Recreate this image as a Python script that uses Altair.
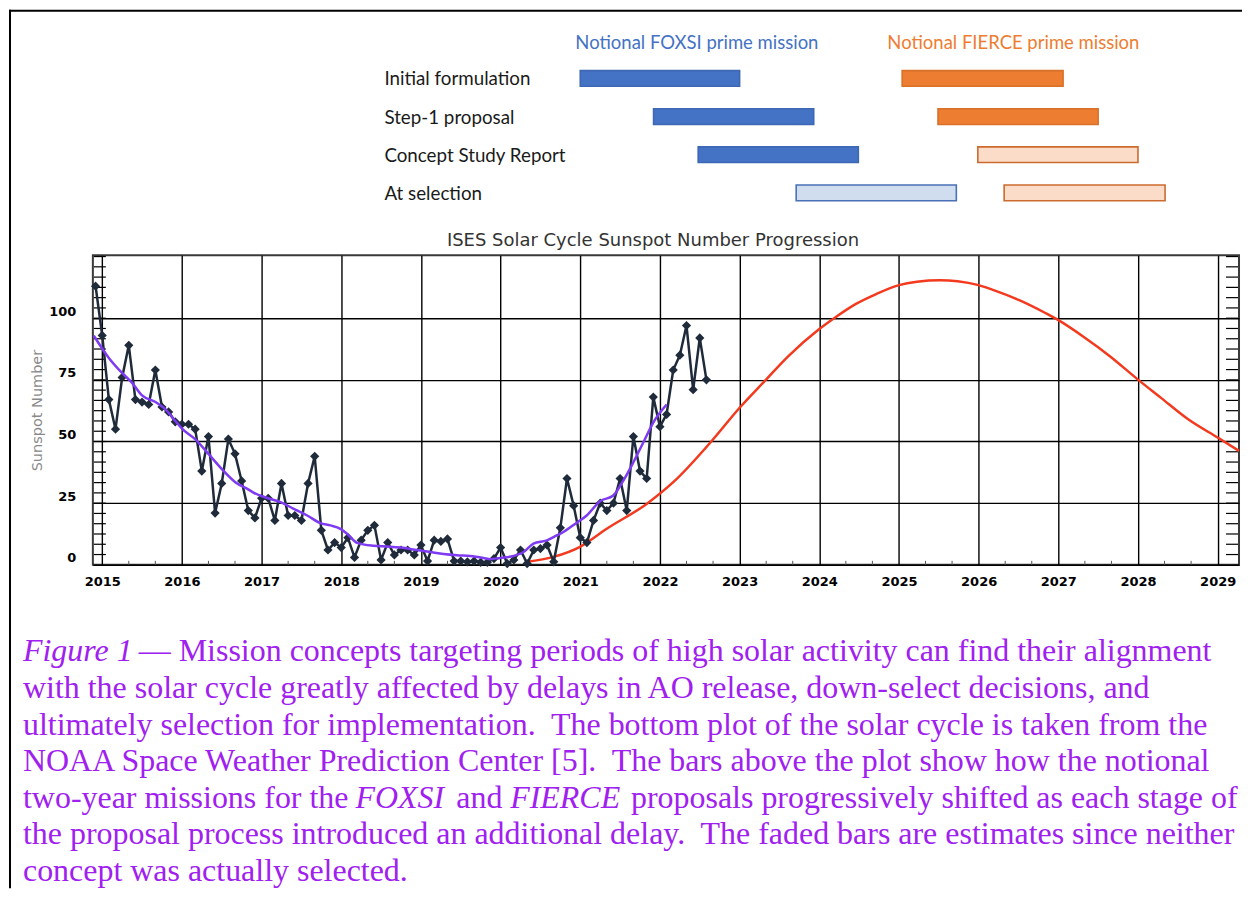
import altair as alt
import pandas as pd

# ------------------------------------------------------------------ data
stages = ["Initial formulation", "Step-1 proposal", "Concept Study Report", "At selection"]
foxsi_start = [2021.00, 2021.92, 2022.48, 2023.71]
foxsi_end = [2023.00, 2023.93, 2024.49, 2025.72]
foxsi_estimate = [False, False, False, True]
fierce_start = [2025.04, 2025.49, 2025.99, 2026.32]
fierce_end = [2027.06, 2027.50, 2028.00, 2028.34]
fierce_estimate = [False, False, True, True]

obs_months = pd.period_range("2014-12", "2022-08", freq="M")
obs_ssn = [113,
           93, 67, 55, 76, 89, 67, 66, 65, 79, 64, 62, 58,
           57, 57, 55, 38, 52, 21, 33, 51, 45, 34, 22, 19,
           27, 27, 18, 33, 20, 20, 18, 33, 44, 14, 6, 9,
           7, 11, 3, 10, 14, 16, 2, 9, 4, 6, 6, 4,
           8, 1.5, 10, 9.5, 10.5, 1.5, 1.5, 1.2, 1.5, 1, 1, 2.5,
           7, 0.5, 2, 6, 0.5, 6, 6.6, 8, 1.2, 15, 35, 24,
           11, 9, 18, 25, 22, 25, 35, 22, 52, 38, 35, 68,
           56, 61, 79, 85, 97, 71, 92, 75]

smooth_t = [2014.895, 2015.083, 2015.249, 2015.375, 2015.500, 2015.668, 2015.793, 2015.918,
            2016.001, 2016.169, 2016.336, 2016.502, 2016.670, 2016.837, 2016.904, 2017.071,
            2017.238, 2017.405, 2017.573, 2017.739, 2017.865, 2017.990, 2018.074, 2018.199,
            2018.407, 2018.575, 2018.742, 2018.951, 2019.118, 2019.285, 2019.452, 2019.619,
            2019.786, 2019.870, 2019.995, 2020.162, 2020.287, 2020.412, 2020.580, 2020.705,
            2020.788, 2020.956, 2021.081, 2021.248, 2021.415, 2021.540, 2021.665, 2021.791,
            2021.916, 2022.084]
smooth_v = [92.9, 83.9, 77.8, 73.8, 68.7, 66.0, 63.0, 58.3,
            55.2, 50.9, 44.9, 38.8, 33.5, 30.5, 29.2, 27.1,
            25.4, 22.7, 20.0, 16.9, 16.0, 14.6, 12.6, 8.9,
            7.7, 7.4, 7.0, 6.0, 5.2, 4.4, 3.9, 3.6,
            2.8, 2.3, 2.8, 3.6, 5.2, 8.6, 9.9, 11.9,
            13.3, 17.1, 20.0, 25.8, 28.1, 34.1, 41.5, 49.6,
            57.7, 65.0]

pred_t = [2020.33, 2020.663, 2020.997, 2021.332, 2021.833, 2022.167, 2022.668, 2023.0,
          2023.332, 2023.609, 2024.0, 2024.204, 2024.460, 2024.715, 2025.0, 2025.226,
          2025.515, 2025.736, 2026.0, 2026.162, 2026.502, 2026.843, 2026.996, 2027.311,
          2027.651, 2028.0, 2028.289, 2028.630, 2029.0, 2029.268]
pred_v = [1.2, 3.2, 7.3, 14.6, 24.7, 33.5, 50.9, 63.7,
          75.1, 84.5, 95.6, 100.4, 105.8, 109.8, 113.4, 114.8,
          115.4, 115.0, 113.4, 111.7, 107.4, 102.0, 99.3, 92.6,
          84.5, 75.1, 67.7, 59.0, 51.6, 46.2]

year_ticks = list(range(2015, 2030))
ssn_ticks = [0, 25, 50, 75, 100]

# ------------------------------------------------------------------ tables
rows = []
for i, s in enumerate(stages):
    rows.append({"mission": "FOXSI", "stage": s, "start": foxsi_start[i], "end": foxsi_end[i],
                 "kind": "FOXSI (estimate)" if foxsi_estimate[i] else "FOXSI"})
    rows.append({"mission": "FIERCE", "stage": s, "start": fierce_start[i], "end": fierce_end[i],
                 "kind": "FIERCE (estimate)" if fierce_estimate[i] else "FIERCE"})
gantt = pd.DataFrame(rows)

obs = pd.DataFrame({"t": [p.year + (p.month - 1) / 12 for p in obs_months], "v": obs_ssn})
smooth = pd.DataFrame({"t": smooth_t, "v": smooth_v})
pred = pd.DataFrame({"t": pred_t, "v": pred_v})
minor_x = pd.DataFrame({"t": [y + f for y in range(2015, 2029) for f in (1 / 3, 2 / 3)]})
minor_y = pd.DataFrame({"v": [k * 25 / 6 for k in range(1, 31)]})
one = pd.DataFrame({"a": [0]})

# ------------------------------------------------------------------ layout constants
W = 1148
X_DOMAIN = [2014.8825, 2029.268]
xsc = alt.Scale(domain=X_DOMAIN, nice=False, zero=False)
ysc = alt.Scale(domain=[0, 125.5], nice=False, zero=False)
UI_FONT = "Lato"
PLOT_FONT = "DejaVu Sans"
NO_VIEW = alt.ViewBackground(stroke="transparent", strokeWidth=0)

# ------------------------------------------------------------------ top panel (mission bars)
kinds = ["FOXSI", "FOXSI (estimate)", "FIERCE", "FIERCE (estimate)"]
stage_scale = alt.Scale(domain=stages, range=[60, 190.3], paddingInner=0.589, paddingOuter=0)

frame_left = alt.Chart(one).mark_rule(color="black", strokeWidth=2).encode(
    x=alt.value(-83), y=alt.value(-1), y2=alt.value(879))
frame_top = alt.Chart(one).mark_rule(color="black", strokeWidth=2).encode(
    x=alt.value(-84), x2=alt.value(1151), y=alt.value(0))

hdr_foxsi = alt.Chart(one).mark_text(text="Notional FOXSI prime mission", color="#4472C4",
                                     font=UI_FONT, fontSize=18.5).encode(
    x=alt.value(605), y=alt.value(32))
hdr_fierce = alt.Chart(one).mark_text(text="Notional FIERCE prime mission", color="#ED7D31",
                                      font=UI_FONT, fontSize=18.5).encode(
    x=alt.value(922), y=alt.value(32))

bars = alt.Chart(gantt).mark_bar(strokeWidth=1.6).encode(
    x=alt.X("start:Q", scale=xsc, axis=None),
    x2="end:Q",
    y=alt.Y("stage:N", scale=stage_scale, axis=None),
    fill=alt.Fill("kind:N", scale=alt.Scale(domain=kinds,
                  range=["#4472C4", "#D0DDEF", "#ED7D31", "#FADCC9"]), legend=None),
    stroke=alt.Stroke("kind:N", scale=alt.Scale(domain=kinds,
                      range=["#3E68B4", "#4A70B8", "#DA712B", "#CD6B2E"]), legend=None),
)

stage_labels = alt.Chart(pd.DataFrame({"stage": stages})).mark_text(
    align="left", baseline="middle", font=UI_FONT, fontSize=18.8, color="#1a1a1a", dy=1).encode(
    x=alt.value(292), y=alt.Y("stage:N", scale=stage_scale, axis=None), text="stage:N")

top = alt.layer(frame_left, frame_top, hdr_foxsi, hdr_fierce, bars, stage_labels).properties(
    width=W, height=245, view=NO_VIEW)

# ------------------------------------------------------------------ sunspot panel
x_enc = alt.X("t:Q", scale=xsc, axis=alt.Axis(
    values=year_ticks, format="d", grid=True, gridColor="black", gridWidth=1.4, gridOpacity=1,
    domain=False, ticks=False, labelFont=PLOT_FONT, labelFontWeight="bold", labelFontSize=13,
    labelColor="black", labelPadding=11, title=None))
y_enc = alt.Y("v:Q", scale=ysc, axis=alt.Axis(
    values=ssn_ticks, grid=True, gridColor="black", gridWidth=1.4, gridOpacity=1,
    domain=False, ticks=False, labelFont=PLOT_FONT, labelFontWeight="bold", labelFontSize=13,
    labelColor="black", labelPadding=17, labelOffset=-7,
    title="Sunspot Number", titleColor="#8a8a8a", titleFont=PLOT_FONT, titleFontWeight="normal",
    titleFontSize=14.5, titlePadding=4))

tick_bottom = alt.Chart(minor_x).mark_rule(color="#555555", strokeWidth=1).encode(
    x=x_enc, y=alt.value(306), y2=alt.value(310))
tick_left = alt.Chart(minor_y).mark_rule(color="black", strokeWidth=1.2).encode(
    y=y_enc, x=alt.value(1), x2=alt.value(13))
tick_right = alt.Chart(minor_y).mark_rule(color="black", strokeWidth=1.2).encode(
    y=y_enc, x=alt.value(1135), x2=alt.value(1147))

pred_line = alt.Chart(pred).mark_line(color="#F33A1E", strokeWidth=2.5, interpolate="monotone").encode(
    x=x_enc, y=y_enc)
obs_line = alt.Chart(obs).mark_line(
    color="#1F2B3A", strokeWidth=2.5,
    point=alt.OverlayMarkDef(shape="diamond", size=85, filled=True, color="#1F2B3A")).encode(
    x=x_enc, y=y_enc)
smooth_line = alt.Chart(smooth).mark_line(color="#7E3BF2", strokeWidth=2.5, interpolate="monotone").encode(
    x=x_enc, y=y_enc)

sunspot = alt.layer(tick_bottom, tick_left, tick_right, pred_line, obs_line, smooth_line).properties(
    width=W, height=310,
    title=alt.TitleParams("ISES Solar Cycle Sunspot Number Progression", font=PLOT_FONT,
                          fontSize=18, fontWeight="normal", color="#333333", offset=5, dx=-13),
    view=alt.ViewBackground(stroke="#3a3a3a", strokeWidth=2))

# ------------------------------------------------------------------ caption panel
cap_segments = [
    (0, 22, "Figure 1", True),
    (0, 138, "\u2014 Mission concepts targeting periods of high solar activity can find their alignment", False),
    (1, 22, "with the solar cycle greatly affected by delays in AO release, down-select decisions, and", False),
    (2, 22, "ultimately selection for implementation.\u00a0 The bottom plot of the solar cycle is taken from the", False),
    (3, 22, "NOAA Space Weather Prediction Center [5].\u00a0 The bars above the plot show how the notional", False),
    (4, 22, "two-year missions for the", False),
    (4, 355, "FOXSI", True),
    (4, 456, "and", False),
    (4, 510, "FIERCE", True),
    (4, 631, "proposals progressively shifted as each stage of", False),
    (5, 22, "the proposal process introduced an additional delay.\u00a0 The faded bars are estimates since neither", False),
    (6, 22, "concept was actually selected.", False),
]
cap = pd.DataFrame([{"px": x - 92, "py": 86.7 + 36.67 * ln, "text": t, "italic": it}
                    for ln, x, t, it in cap_segments])


def cap_layer(italic):
    return alt.Chart(cap[cap["italic"] == italic]).mark_text(
        align="left", baseline="middle", font="Liberation Serif", fontSize=32,
        fontStyle="italic" if italic else "normal", color="#A020F0").encode(
        x=alt.X("px:Q", scale=None), y=alt.Y("py:Q", scale=None), text="text:N")


caption = alt.layer(cap_layer(False), cap_layer(True)).properties(width=W, height=326, view=NO_VIEW)

chart = alt.vconcat(top, sunspot, caption, spacing=0, bounds="flush").properties(
    padding={"left": 0, "top": 0, "right": 0, "bottom": 0}
).configure_view(stroke="transparent", strokeWidth=0).configure(background="white")

chart.save("out.html", embed_options={"renderer": "svg", "actions": False})
